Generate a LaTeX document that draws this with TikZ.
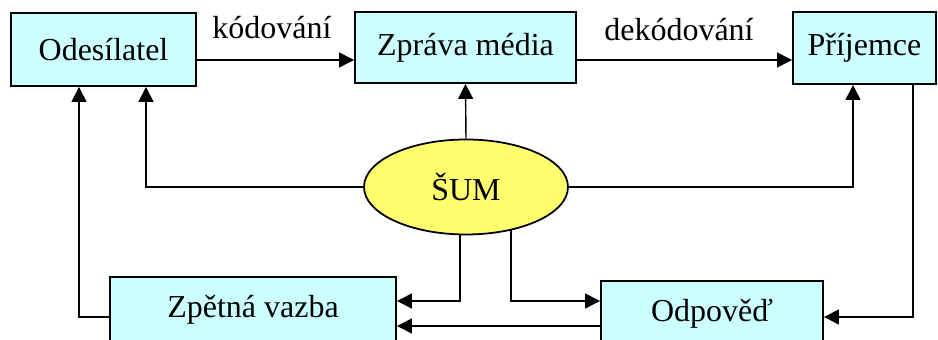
\documentclass[tikz,border=0pt]{standalone}
\usepackage{fontspec}
\setmainfont{Liberation Serif}
\usetikzlibrary{shapes.geometric,arrows.meta}
\definecolor{boxcyan}{RGB}{204,255,255}
\definecolor{noiseyellow}{RGB}{255,255,110}
\begin{document}
\begin{tikzpicture}[x=0.02cm,y=-0.02cm,
    txt/.style={font=\fontsize{18.2}{22}\selectfont},
    box/.style={txt,draw,line width=1.1pt,fill=boxcyan,inner sep=0pt},
    conn/.style={line width=0.8pt},
    arr/.style={conn,-{Triangle[length=8.5pt,width=8.5pt]}}]
  \useasboundingbox (0,0) rectangle (938,340);
  \clip (0,0) rectangle (938,340);

  \node[box,minimum width=185*0.02cm,minimum height=73*0.02cm] (ode) at (103.5,49.5) {Odesílatel\hspace{16\pgflinewidth}};
  \node[box,minimum width=221*0.02cm,minimum height=71*0.02cm] (zpr) at (465.5,47.5) {Zpráva média};
  \node[box,minimum width=143*0.02cm,minimum height=72*0.02cm] (pri) at (864.5,48) {Příjemce};
  \node[txt] (kod) at (272,28) {kódování};
  \node[txt] (dek) at (679,30) {dekódování};
  \node[txt,ellipse,draw,line width=1pt,fill=noiseyellow,inner sep=0pt,
    minimum width=204*0.02cm,minimum height=95*0.02cm] (sum) at (466,187) {ŠUM};
  \node[box,anchor=north,minimum width=286*0.02cm,minimum height=66*0.02cm] (zpe) at (253,276) {Zpětná vazba};
  \node[box,anchor=north,minimum width=222*0.02cm,minimum height=66*0.02cm] (odp) at (712,280) {Odpověď};

  \draw[arr] (ode.east |- 0,60) -- (zpr.west |- 0,60);
  \draw[arr] (zpr.east |- 0,60) -- (pri.west |- 0,60);
  \draw[arr] (sum.north) -- (zpr.south);
  \draw[arr] (sum.west) -| ([xshift=42.5*0.02cm]ode.south);
  \draw[arr] (sum.east) -| ([xshift=-11.5*0.02cm]pri.south);
  \draw[arr] ([xshift=-24*0.02cm]pri.south east) |- (odp.east |- 0,317);
  \draw[arr] (zpe.west |- 0,317) -| ([xshift=-24.5*0.02cm]ode.south);
  \draw[arr] (sum.-97) |- (zpe.east |- 0,301);
  \draw[arr] (sum.-44) |- (odp.west |- 0,301);
  \draw[arr] (odp.west |- 0,326) -- (zpe.east |- 0,326);
\end{tikzpicture}
\end{document}
